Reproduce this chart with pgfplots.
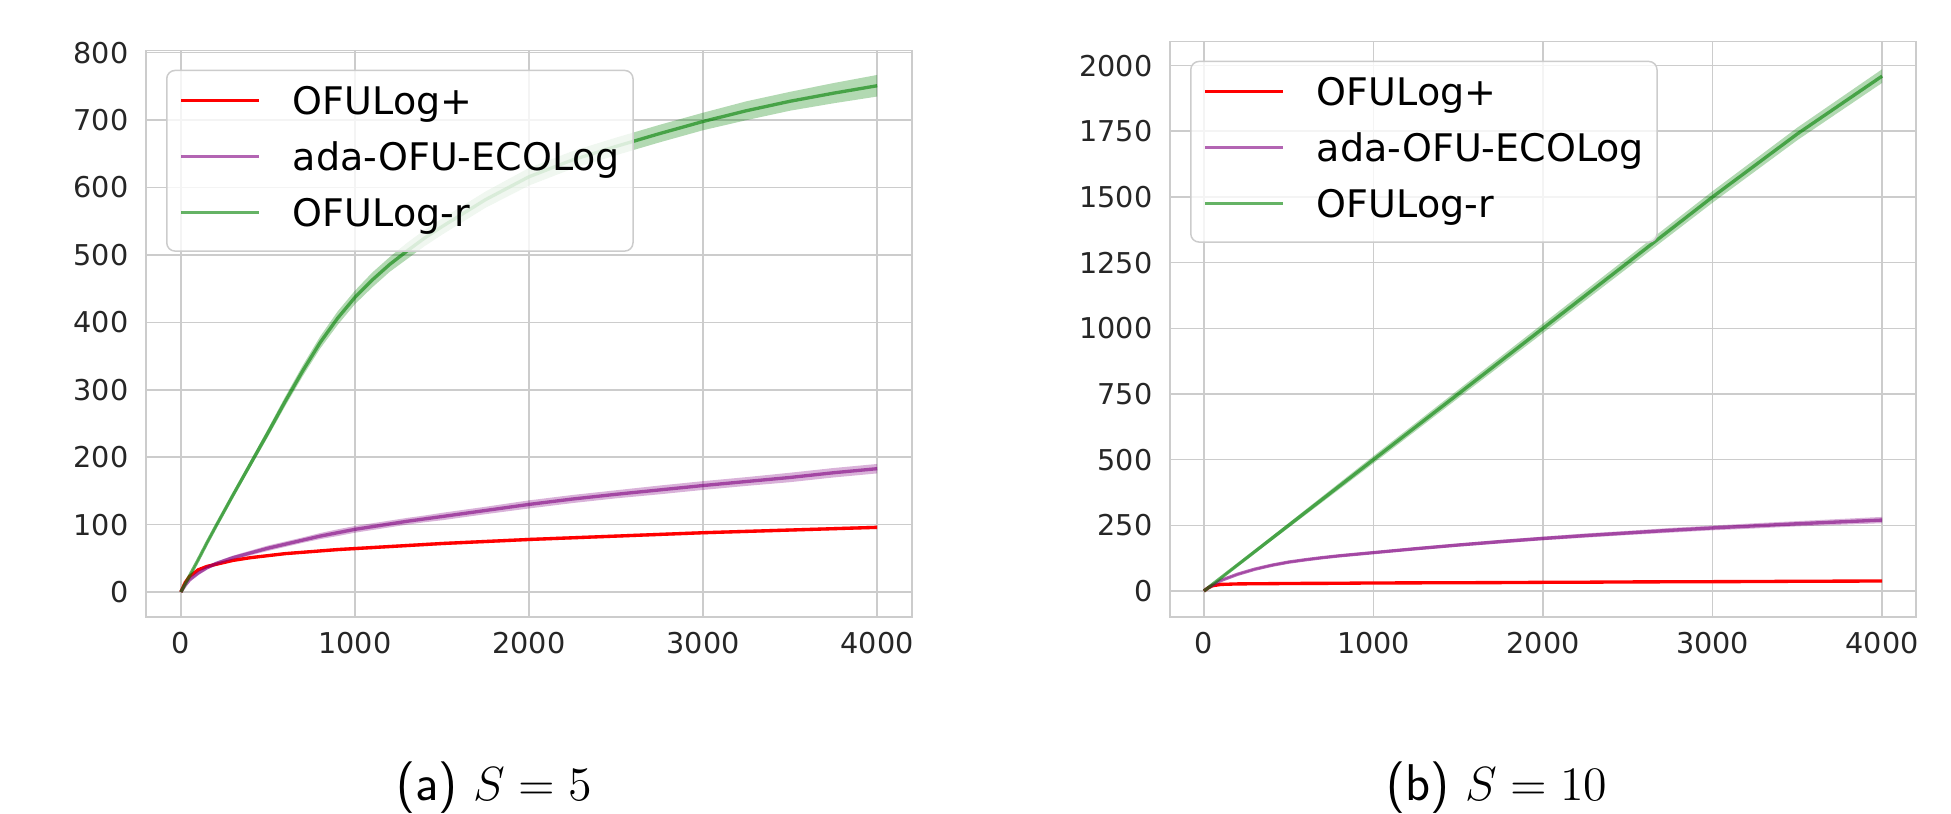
\documentclass[border=0pt]{standalone}
\usepackage{fontspec}
\setmainfont{DejaVu Sans}
\usepackage{pgfplots}
\pgfplotsset{compat=1.18}
\usepackage{pgfplotstable}
\usepgfplotslibrary{fillbetween}

\definecolor{gridgray}{RGB}{204,204,204}
\definecolor{ticktext}{RGB}{38,38,38}
\definecolor{mplgreen}{RGB}{0,128,0}
\definecolor{mplpurple}{RGB}{128,0,128}
\definecolor{mplred}{RGB}{255,0,0}

% S = 5 : x, OFULog+ (r, half band rw), ada-OFU-ECOLog (p, pw), OFULog-r (g, gw)
\pgfplotstableread{
x r rw p pw g gw
0 0 0 0 0 0 0
25 14 1 10 1 12 1
50 23 1.5 18 1.5 24 1.5
100 33 2 28 2 48 2.5
150 38 2 36 2.5 73 3
200 41 2 42 3 97 3.5
300 47 2 51 3 144 4
400 51 2 58 3.5 190 5
500 54 2 65 4 236 6
600 57 2 71 4 283 7
700 59 2 77 4 328 8
800 61 2 83 4.5 370 9
900 63 2.5 88 5 406 10
1000 64.5 2.5 93 5 437 10
1100 66 2.5 97 5 463 11
1200 67.5 2.5 101 5 486 11
1300 69 2.5 105 5 506 12
1400 70.5 2.5 108.5 5 525 12
1500 72 2.5 112 5.5 542 12
1750 75 2.5 121 5.5 582 12
2000 78 2.5 130 6 616 13
2250 80.5 2.5 138 6 641 13
2500 83 2.5 145 6 661 13
2750 85.5 2.5 151.5 6.5 680 13
3000 88 2.5 158 6.5 698 13
3250 90 2.5 164 6.5 714 14
3500 92 2.5 170 7 728 14
3750 94 2.5 177 7 740 15
4000 96 2.5 183 7 751 16
}\tabA

% S = 10
\pgfplotstableread{
x r rw p pw g gw
0 0 0 0 0 0 0
25 12 1 12 1 12 1
50 20 1 22 1.5 25 2
100 25 1 40 2 50 4
200 27 1 64 3 100 6
300 27.5 1 83 3 150 7
400 28 1 98 4 200 8
500 28.5 1 110 4 250 9
600 29 1 119 4 300 10
700 29 1 127 4.5 350 11
800 29.5 1 134 5 400 12
900 30 1 140 5 450 13
1000 30.5 1.5 146 5 500 14
1250 31 1.5 161 6 625 15
1500 31.5 1.5 175 6 750 16
1750 32 1.5 188 7 875 17
2000 33 1.5 200 7 1000 18
2250 33.5 1.5 211 8 1125 19
2500 34.5 1.5 221 8 1250 20
2750 35 1.5 231 9 1375 21
3000 35.5 1.5 240 9 1500 22
3250 36 1.5 248 10 1620 23
3500 37 1.5 256 10 1740 24
3750 37.5 1.5 263 11 1850 25
4000 38 1.5 270 12 1960 26
}\tabB

\pgfplotsset{
  panel/.style={
    scale only axis,
    xmin=-200, xmax=4200,
    xtick={0,1000,2000,3000,4000},
    grid=major,
    grid style={gridgray, line width=0.45pt},
    axis line style={gridgray, line width=0.45pt},
    major tick length=0pt,
    tick style={draw=none},
    ticklabel style={font=\fontsize{8.6}{10}\selectfont, text=ticktext},
    yticklabel style={inner sep=0pt, xshift=-5.1pt},
    xticklabel style={inner sep=0pt, yshift=-4.5pt},
    /pgf/number format/assume math mode=true,
    /pgf/number format/1000 sep={},
    scaled ticks=false,
    legend cell align=left,
    legend style={at={(0,1)}, anchor=north west, xshift=6pt, yshift=-5.7pt,
      draw=gridgray, line width=0.45pt, rounded corners=2.5pt,
      fill=white, fill opacity=0.8, draw opacity=1, text opacity=1,
      font=\fontsize{11.4}{13}\selectfont,
      inner xsep=3.9pt, inner ysep=4.8pt, row sep=5.8pt,
      nodes={inner sep=0pt, text height=8.4pt, text depth=2.6pt}},
    legend image code/.code={\draw[#1, line width=0.9pt] (0pt,1.25pt) -- (23.4pt,1.25pt); \path (33pt,1.25pt);},
  },
  redline/.style={draw=mplred, line width=1pt},
  purline/.style={draw=mplpurple, draw opacity=0.6, line width=1pt},
  grnline/.style={draw=mplgreen, draw opacity=0.6, line width=1pt},
}

\begin{document}
\begin{tikzpicture}
\path (0pt,0pt) rectangle (585.3pt,243.9pt);

\begin{axis}[panel, at={(43.8pt,58.8pt)}, anchor=south west,
  width=229.8pt, height=169.9pt, ymin=-37, ymax=803,
  ytick={0,100,200,300,400,500,600,700,800}]
  % OFULog+
  \addplot[name path=aRu, draw=none, forget plot] table[x=x, y expr=\thisrow{r}+\thisrow{rw}] {\tabA};
  \addplot[name path=aRl, draw=none, forget plot] table[x=x, y expr=\thisrow{r}-\thisrow{rw}] {\tabA};
  \addplot[fill=mplred, fill opacity=0.3, draw=none, forget plot] fill between[of=aRu and aRl];
  \addplot[redline] table[x=x, y=r] {\tabA};
  \addlegendentry{OFULog+}
  % ada-OFU-ECOLog
  \addplot[name path=aPu, draw=none, forget plot] table[x=x, y expr=\thisrow{p}+\thisrow{pw}] {\tabA};
  \addplot[name path=aPl, draw=none, forget plot] table[x=x, y expr=\thisrow{p}-\thisrow{pw}] {\tabA};
  \addplot[fill=mplpurple, fill opacity=0.3, draw=none, forget plot] fill between[of=aPu and aPl];
  \addplot[purline] table[x=x, y=p] {\tabA};
  \addlegendentry{ada-OFU-ECOLog}
  % OFULog-r
  \addplot[name path=aGu, draw=none, forget plot] table[x=x, y expr=\thisrow{g}+\thisrow{gw}] {\tabA};
  \addplot[name path=aGl, draw=none, forget plot] table[x=x, y expr=\thisrow{g}-\thisrow{gw}] {\tabA};
  \addplot[fill=mplgreen, fill opacity=0.3, draw=none, forget plot] fill between[of=aGu and aGl];
  \addplot[grnline] table[x=x, y=g] {\tabA};
  \addlegendentry{OFULog-r}
\end{axis}

\begin{axis}[panel, at={(351pt,58.8pt)}, anchor=south west,
  width=223.8pt, height=172.6pt, ymin=-99, ymax=2091,
  ytick={0,250,500,750,1000,1250,1500,1750,2000}]
  \addplot[name path=bRu, draw=none, forget plot] table[x=x, y expr=\thisrow{r}+\thisrow{rw}] {\tabB};
  \addplot[name path=bRl, draw=none, forget plot] table[x=x, y expr=\thisrow{r}-\thisrow{rw}] {\tabB};
  \addplot[fill=mplred, fill opacity=0.3, draw=none, forget plot] fill between[of=bRu and bRl];
  \addplot[redline] table[x=x, y=r] {\tabB};
  \addlegendentry{OFULog+}
  \addplot[name path=bPu, draw=none, forget plot] table[x=x, y expr=\thisrow{p}+\thisrow{pw}] {\tabB};
  \addplot[name path=bPl, draw=none, forget plot] table[x=x, y expr=\thisrow{p}-\thisrow{pw}] {\tabB};
  \addplot[fill=mplpurple, fill opacity=0.3, draw=none, forget plot] fill between[of=bPu and bPl];
  \addplot[purline] table[x=x, y=p] {\tabB};
  \addlegendentry{ada-OFU-ECOLog}
  \addplot[name path=bGu, draw=none, forget plot] table[x=x, y expr=\thisrow{g}+\thisrow{gw}] {\tabB};
  \addplot[name path=bGl, draw=none, forget plot] table[x=x, y expr=\thisrow{g}-\thisrow{gw}] {\tabB};
  \addplot[fill=mplgreen, fill opacity=0.3, draw=none, forget plot] fill between[of=bGu and bGl];
  \addplot[grnline] table[x=x, y=g] {\tabB};
  \addlegendentry{OFULog-r}
\end{axis}

\node[anchor=base, inner sep=0pt, font=\fontsize{15.5}{18}\selectfont] at (148.2pt,3.9pt) {\sffamily(a)~$S=5$};
\node[anchor=base, inner sep=0pt, font=\fontsize{15.5}{18}\selectfont] at (449.1pt,3.9pt) {\sffamily(b)~$S=10$};
\end{tikzpicture}
\end{document}
